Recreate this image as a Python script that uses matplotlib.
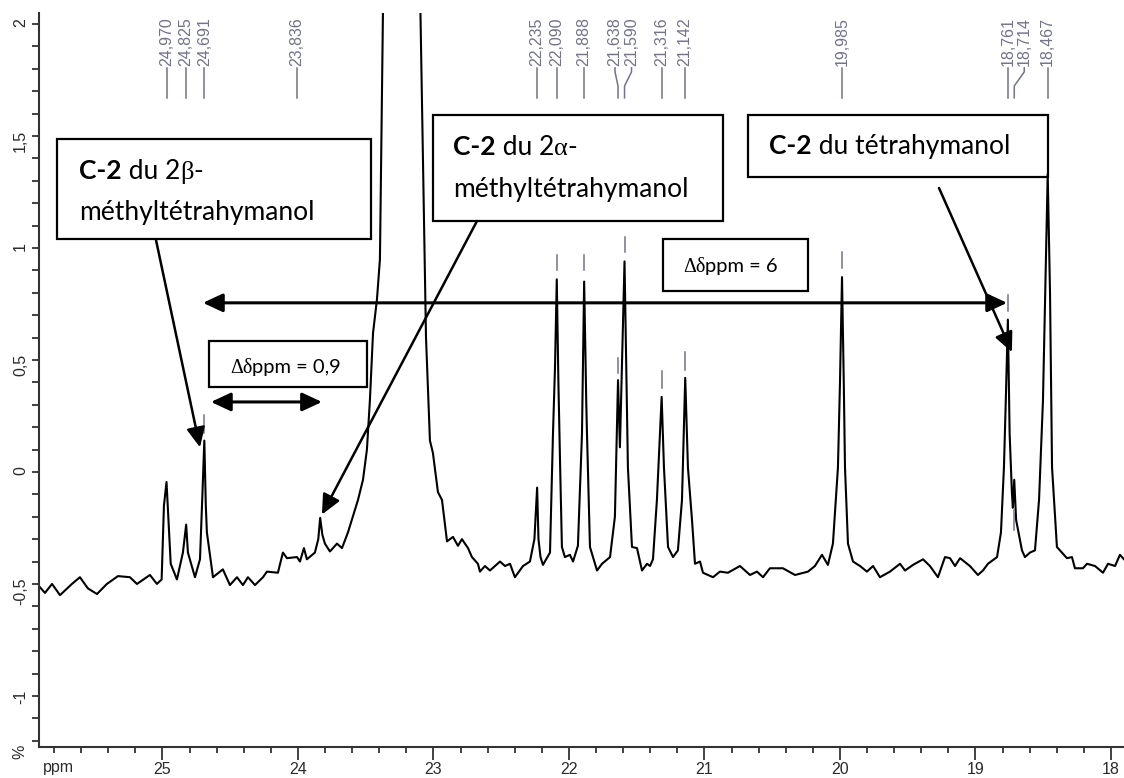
import matplotlib
matplotlib.use("Agg")
import matplotlib.pyplot as plt
from matplotlib.patches import Rectangle
from matplotlib.ticker import FixedLocator, MultipleLocator

# 13C NMR spectrum (ppm, intensity %)
ppm = [25.911, 25.867, 25.815, 25.756, 25.668, 25.609, 25.550, 25.483, 25.410, 25.328,
       25.240, 25.188, 25.092, 25.041, 25.006, 24.989, 24.970, 24.958, 24.939, 24.893,
       24.849, 24.825, 24.812, 24.760, 24.723, 24.705, 24.691, 24.680, 24.672, 24.627,
       24.554, 24.502, 24.450, 24.406, 24.369, 24.317, 24.258, 24.229, 24.148, 24.111,
       24.081, 24.007, 23.985, 23.956, 23.934, 23.875, 23.850, 23.836, 23.820, 23.801,
       23.764, 23.712, 23.675, 23.631, 23.557, 23.520, 23.491, 23.469, 23.446, 23.417,
       23.395, 23.373, 23.360, 23.232, 23.110, 23.096, 23.075, 23.063, 23.055, 23.026,
       23.004, 22.967, 22.937, 22.900, 22.856, 22.819, 22.790, 22.745, 22.716, 22.672,
       22.657, 22.620, 22.583, 22.509, 22.472, 22.435, 22.399, 22.339, 22.288, 22.255,
       22.235, 22.225, 22.210, 22.192, 22.140, 22.118, 22.103, 22.090, 22.078, 22.065,
       22.052, 22.030, 21.993, 21.970, 21.934, 21.904, 21.888, 21.872, 21.867, 21.845,
       21.793, 21.756, 21.697, 21.661, 21.638, 21.624, 21.590, 21.575, 21.565, 21.535,
       21.498, 21.461, 21.424, 21.402, 21.380, 21.351, 21.316, 21.299, 21.269, 21.232,
       21.196, 21.166, 21.142, 21.122, 21.092, 21.070, 21.033, 21.011, 20.937, 20.886,
       20.827, 20.738, 20.664, 20.613, 20.568, 20.517, 20.421, 20.332, 20.236, 20.185,
       20.133, 20.089, 20.052, 20.015, 20.000, 19.985, 19.972, 19.963, 19.941, 19.904,
       19.852, 19.801, 19.756, 19.705, 19.631, 19.557, 19.520, 19.461, 19.387, 19.336,
       19.277, 19.225, 19.188, 19.151, 19.114, 19.041, 18.982, 18.945, 18.908, 18.841,
       18.812, 18.790, 18.775, 18.761, 18.748, 18.731, 18.724, 18.714, 18.700, 18.657,
       18.635, 18.598, 18.561, 18.531, 18.502, 18.485, 18.467, 18.450, 18.435, 18.399,
       18.362, 18.325, 18.288, 18.266, 18.207, 18.177, 18.118, 18.059, 18.022, 17.970,
       17.934, 17.904]
intensity = [-0.51, -0.54, -0.50, -0.55, -0.50, -0.47, -0.52, -0.545, -0.50, -0.465,
             -0.47, -0.50, -0.46, -0.50, -0.48, -0.15, -0.045, -0.19, -0.41, -0.48,
             -0.36, -0.235, -0.36, -0.47, -0.39, -0.10, 0.14, -0.15, -0.27, -0.47,
             -0.435, -0.505, -0.47, -0.505, -0.47, -0.505, -0.47, -0.445, -0.45, -0.36,
             -0.385, -0.38, -0.40, -0.34, -0.39, -0.36, -0.30, -0.205, -0.28, -0.32,
             -0.355, -0.32, -0.34, -0.27, -0.125, -0.035, 0.10, 0.32, 0.62, 0.77,
             0.95, 2.05, 2.60, 3.50, 2.60, 2.05, 1.30, 0.90, 0.60, 0.14,
             0.085, -0.09, -0.125, -0.31, -0.29, -0.33, -0.30, -0.34, -0.38, -0.41,
             -0.445, -0.42, -0.44, -0.40, -0.42, -0.41, -0.47, -0.42, -0.40, -0.30,
             -0.07, -0.30, -0.38, -0.415, -0.36, 0.17, 0.47, 0.86, 0.40, 0.02,
             -0.335, -0.38, -0.37, -0.40, -0.33, 0.17, 0.85, 0.30, 0.17, -0.335,
             -0.44, -0.41, -0.38, -0.20, 0.41, 0.11, 0.94, 0.40, 0.02, -0.335,
             -0.34, -0.44, -0.41, -0.42, -0.39, -0.125, 0.335, 0.02, -0.335, -0.38,
             -0.35, -0.125, 0.42, 0.02, -0.215, -0.41, -0.40, -0.45, -0.47, -0.445,
             -0.45, -0.42, -0.46, -0.445, -0.47, -0.43, -0.43, -0.46, -0.445, -0.42,
             -0.37, -0.415, -0.32, 0.02, 0.40, 0.87, 0.40, 0.02, -0.32, -0.40,
             -0.42, -0.445, -0.42, -0.47, -0.445, -0.41, -0.44, -0.415, -0.39, -0.42,
             -0.47, -0.38, -0.385, -0.42, -0.385, -0.42, -0.46, -0.44, -0.41, -0.38,
             -0.27, 0.02, 0.35, 0.68, 0.17, -0.095, -0.16, -0.035, -0.215, -0.35,
             -0.38, -0.36, -0.35, -0.125, 0.32, 0.80, 1.33, 0.80, 0.02, -0.335,
             -0.36, -0.385, -0.38, -0.43, -0.43, -0.41, -0.42, -0.45, -0.41, -0.42,
             -0.37, -0.39]

# picked peaks (labels along the top)
peak_ppm = [24.970, 24.825, 24.691, 23.836, 22.235, 22.090, 21.888, 21.638, 21.590,
            21.316, 21.142, 19.985, 18.761, 18.714, 18.467]
# short grey peak markers: (ppm, low, high)
marker_ppm = [24.691, 22.090, 21.888, 21.638, 21.590, 21.316, 21.142, 19.985, 18.761, 18.714]
marker_lo = [0.175, 0.90, 0.90, 0.44, 0.98, 0.375, 0.455, 0.91, 0.72, -0.26]
marker_hi = [0.255, 0.97, 0.97, 0.51, 1.05, 0.45, 0.535, 0.98, 0.79, -0.17]

x_ticks = [25, 24, 23, 22, 21, 20, 19, 18]
y_ticks = [-1, -0.5, 0, 0.5, 1, 1.5, 2]
y_labels = ["-1", "-0,5", "0", "0,5", "1", "1,5", "2"]

W, H = 1124, 778
PX_PER_PPM = 135.5
GREY = "#72728c"
AX_COL = "#333333"
TXT = "Lato"
SYM = "Liberation Serif"


def fx(x):
    return x / W


def fy(y):
    return 1 - y / H


def rich_text(fig, x, y, parts, size):
    """Draw text pieces one after another, starting at pixel (x, baseline y)."""
    renderer = fig.canvas.get_renderer()
    for s, kw in parts:
        t = fig.text(fx(x), fy(y), s, fontsize=size, ha="left", va="baseline", **kw)
        x += t.get_window_extent(renderer).width


def box(fig, x0, y0, x1, y1):
    fig.add_artist(Rectangle((fx(x0), fy(y1)), fx(x1) - fx(x0), fy(y0) - fy(y1),
                             transform=fig.transFigure, fill=False,
                             edgecolor="black", linewidth=1.6))


fig = plt.figure(figsize=(W / 100, H / 100), dpi=100)
ax = fig.add_axes([fx(39), fy(747), fx(1124) - fx(39), fy(13) - fy(747)])

ax.plot(ppm, intensity, color="black", linewidth=1.5, solid_joinstyle="round")
ax.set_xlim(25.911, 17.904)
ax.set_ylim(-1.228, 2.049)

# Axes look
for side in ["top", "right"]:
    ax.spines[side].set_visible(False)
for side in ["left", "bottom"]:
    ax.spines[side].set_linewidth(1.5)
    ax.spines[side].set_color(AX_COL)

ax.xaxis.set_major_locator(FixedLocator(x_ticks))
ax.xaxis.set_minor_locator(MultipleLocator(0.2))
ax.set_xticklabels([str(t) for t in x_ticks], fontfamily="Liberation Sans")
ax.yaxis.set_major_locator(FixedLocator(y_ticks))
ax.yaxis.set_minor_locator(MultipleLocator(0.1))
ax.set_yticklabels(y_labels, fontfamily="Liberation Sans")
ax.tick_params(axis="x", which="major", length=9.5, width=1.3, color=AX_COL,
               labelsize=11.5, labelcolor="#2a2a2a", pad=1)
ax.tick_params(axis="x", which="minor", length=4.5, width=1.3, color=AX_COL)
ax.tick_params(axis="y", which="both", length=5, width=1.3, color=AX_COL)
ax.tick_params(axis="y", which="major", labelsize=11.5, labelcolor="#2a2a2a",
               labelrotation=90, pad=3)

fig.text(fx(58), fy(772), "ppm", fontsize=11.5, fontfamily="Liberation Sans",
         color="#2a2a2a", ha="center", va="baseline")
fig.text(fx(20), fy(752), "%", fontsize=11.5, fontfamily="Liberation Sans",
         color="#2a2a2a", rotation=90, ha="center", va="center")

# Peak pick labels at the top; label_shift moves the label, foot_shift the line foot (px)
label_shift = {23.836: -23, 21.638: -3, 21.590: 7, 18.714: 10}
foot_shift = {23.836: -23}
for p in peak_ppm:
    lx = p - label_shift.get(p, 0) / PX_PER_PPM
    fx_ = p - foot_shift.get(p, 0) / PX_PER_PPM
    ax.plot([lx, lx, fx_, fx_], [1.804, 1.786, 1.723, 1.670], color=GREY,
            linewidth=1.1, clip_on=False)
    ax.text(lx, 1.813, f"{p:.3f}".replace(".", ","), rotation=90, ha="center",
            va="bottom", fontsize=11.5, fontfamily="Liberation Sans", color=GREY)

for p, lo, hi in zip(marker_ppm, marker_lo, marker_hi):
    ax.plot([p, p], [lo, hi], color=GREY, linewidth=1.1)

# Annotation boxes
BIG = 19
SMALL = 14.5
box(fig, 57, 139, 371, 239)
rich_text(fig, 79, 179, [("C-2", dict(fontfamily=TXT, fontweight="bold")),
                         (" du 2", dict(fontfamily=TXT)),
                         ("\u03b2", dict(fontfamily=SYM)),
                         ("-", dict(fontfamily=TXT))], BIG)
rich_text(fig, 79, 220, [("méthyltétrahymanol", dict(fontfamily=TXT))], BIG)

box(fig, 433, 115, 723, 221)
rich_text(fig, 453, 155, [("C-2", dict(fontfamily=TXT, fontweight="bold")),
                          (" du 2", dict(fontfamily=TXT)),
                          ("\u03b1", dict(fontfamily=SYM)),
                          ("-", dict(fontfamily=TXT))], BIG)
rich_text(fig, 453, 197, [("méthyltétrahymanol", dict(fontfamily=TXT))], BIG)

box(fig, 748, 115, 1048, 177)
rich_text(fig, 769, 154, [("C-2", dict(fontfamily=TXT, fontweight="bold")),
                          (" du tétrahymanol", dict(fontfamily=TXT))], BIG)

box(fig, 663, 239, 808, 291)
rich_text(fig, 683, 272, [("\u0394\u03b4", dict(fontfamily=SYM)),
                          ("ppm = 6", dict(fontfamily=TXT))], SMALL)

box(fig, 209, 341, 367, 387)
rich_text(fig, 230, 373, [("\u0394\u03b4", dict(fontfamily=SYM)),
                          ("ppm = 0,9", dict(fontfamily=TXT))], SMALL)

# Arrows
head = "-|>,head_length=0.6,head_width=0.28"
both = "<|-|>,head_length=0.6,head_width=0.28"
ax.annotate("", xy=(24.723, 0.11), xytext=(156, H - 240), textcoords="figure pixels",
            arrowprops=dict(arrowstyle=head, mutation_scale=20, color="black",
                            lw=1.8, shrinkA=0, shrinkB=0))
ax.annotate("", xy=(23.823, -0.19), xytext=(477, H - 221), textcoords="figure pixels",
            arrowprops=dict(arrowstyle=head, mutation_scale=20, color="black",
                            lw=1.8, shrinkA=0, shrinkB=0))
ax.annotate("", xy=(18.731, 0.535), xytext=(939, H - 188), textcoords="figure pixels",
            arrowprops=dict(arrowstyle=head, mutation_scale=20, color="black",
                            lw=1.8, shrinkA=0, shrinkB=0))
ax.annotate("", xy=(18.767, 0.755), xytext=(24.701, 0.755),
            arrowprops=dict(arrowstyle=both, mutation_scale=20, color="black",
                            lw=2.2, shrinkA=0, shrinkB=0))
ax.annotate("", xy=(23.823, 0.3125), xytext=(24.642, 0.3125),
            arrowprops=dict(arrowstyle=both, mutation_scale=20, color="black",
                            lw=2.2, shrinkA=0, shrinkB=0))

fig.savefig("out.png", dpi=100)
